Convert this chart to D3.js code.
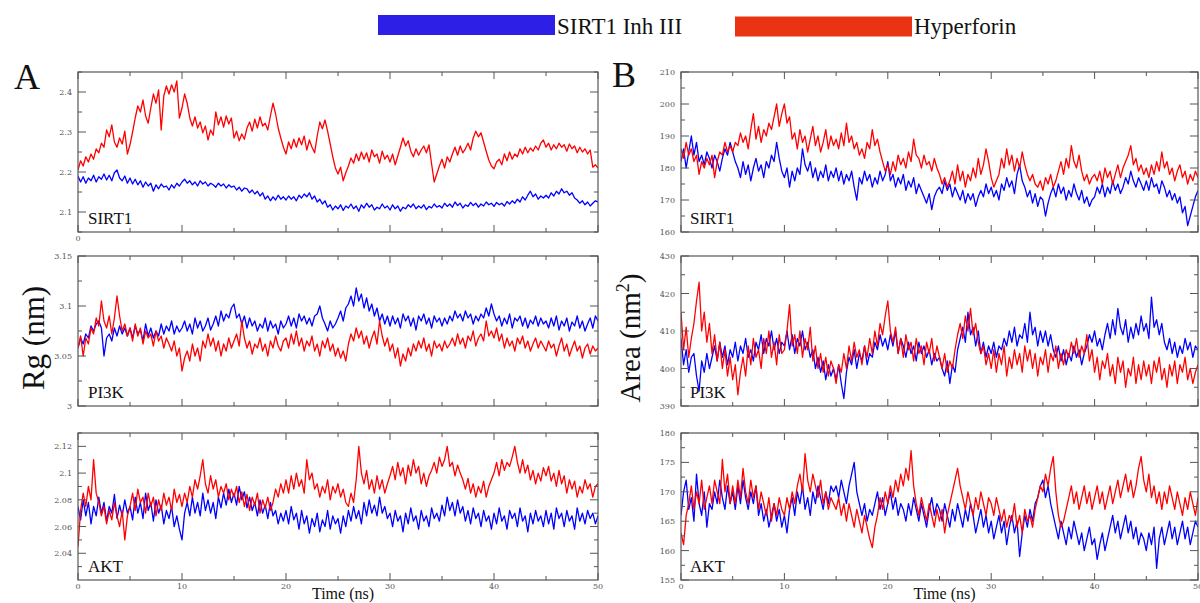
<!DOCTYPE html>
<html><head><meta charset="utf-8">
<script src="https://cdn.jsdelivr.net/npm/d3@7"></script>
<style>body{margin:0;background:#fff}svg{display:block}</style>
</head><body>
<svg id="c" width="1200" height="603"></svg>
<script>
// ---------- DATA (0.25 ns sampling, 0..50 ns) ----------
const timeStep = 0.25;
const xTicksMajor = [0, 10, 20, 30, 40, 50];
const xTicksMinor = [5, 15, 25, 35, 45];
const legendLabels = ["SIRT1 Inh III", "Hyperforin"];
const panelNames = ["SIRT1", "PI3K", "AKT"];

const rgSirt1Hyp = [
2.205,2.228,2.215,2.238,2.225,2.245,2.232,2.258,2.248,2.272,2.262,2.305,2.288,2.318,2.275,2.262,2.285,2.27,2.302,2.245,
2.268,2.3,2.335,2.365,2.35,2.38,2.34,2.322,2.36,2.395,2.372,2.405,2.305,2.39,2.415,2.395,2.418,2.4,2.428,2.335,
2.36,2.395,2.372,2.335,2.315,2.338,2.31,2.325,2.298,2.315,2.28,2.305,2.292,2.35,2.318,2.338,2.312,2.34,2.32,2.335,
2.285,2.302,2.278,2.295,2.282,2.31,2.325,2.302,2.332,2.31,2.338,2.315,2.322,2.305,2.34,2.372,2.345,2.31,2.285,2.262,
2.245,2.275,2.258,2.282,2.262,2.285,2.268,2.29,2.255,2.28,2.262,2.248,2.29,2.325,2.308,2.33,2.302,2.27,2.238,2.21,
2.195,2.212,2.178,2.198,2.215,2.235,2.222,2.245,2.228,2.25,2.232,2.248,2.225,2.255,2.238,2.245,2.222,2.252,2.232,2.242,
2.225,2.245,2.218,2.24,2.262,2.285,2.265,2.278,2.252,2.238,2.258,2.242,2.255,2.265,2.248,2.268,2.22,2.175,2.195,2.215,
2.232,2.21,2.238,2.225,2.245,2.262,2.242,2.265,2.248,2.258,2.272,2.255,2.285,2.302,2.288,2.298,2.275,2.252,2.23,2.215,
2.208,2.225,2.232,2.218,2.245,2.228,2.25,2.232,2.245,2.238,2.258,2.245,2.262,2.248,2.26,2.252,2.265,2.255,2.272,2.28,
2.262,2.272,2.255,2.268,2.258,2.272,2.262,2.268,2.252,2.27,2.258,2.265,2.248,2.262,2.25,2.258,2.245,2.255,2.212,2.218,2.21];
const rgSirt1Inh = [
2.19,2.175,2.188,2.172,2.185,2.178,2.192,2.175,2.188,2.182,2.195,2.18,2.192,2.178,2.198,2.205,2.185,2.178,2.19,2.172,
2.185,2.17,2.182,2.168,2.178,2.162,2.175,2.165,2.172,2.152,2.168,2.158,2.17,2.162,2.165,2.155,2.168,2.16,2.172,2.165,
2.175,2.182,2.172,2.178,2.168,2.175,2.165,2.178,2.17,2.175,2.165,2.172,2.168,2.162,2.172,2.165,2.17,2.16,2.168,2.162,
2.165,2.155,2.162,2.152,2.16,2.158,2.148,2.155,2.145,2.152,2.14,2.148,2.132,2.14,2.128,2.138,2.13,2.142,2.132,2.138,
2.13,2.14,2.132,2.138,2.128,2.142,2.135,2.145,2.138,2.148,2.132,2.14,2.125,2.132,2.12,2.128,2.112,2.118,2.105,2.115,
2.108,2.118,2.104,2.115,2.11,2.12,2.108,2.115,2.102,2.118,2.11,2.122,2.112,2.118,2.105,2.112,2.108,2.12,2.11,2.115,
2.105,2.118,2.108,2.115,2.102,2.112,2.108,2.118,2.112,2.12,2.108,2.115,2.11,2.118,2.106,2.114,2.11,2.12,2.112,2.116,
2.11,2.122,2.114,2.12,2.112,2.125,2.116,2.122,2.11,2.118,2.114,2.124,2.116,2.122,2.112,2.12,2.115,2.125,2.118,2.122,
2.114,2.124,2.118,2.122,2.115,2.126,2.12,2.128,2.122,2.132,2.125,2.138,2.13,2.142,2.152,2.138,2.145,2.132,2.14,2.135,
2.142,2.135,2.148,2.14,2.152,2.145,2.158,2.148,2.152,2.142,2.148,2.135,2.13,2.122,2.128,2.118,2.125,2.115,2.122,2.128,2.125];

const rgPi3kHyp = [
3.058,3.07,3.05,3.068,3.062,3.078,3.072,3.088,3.08,3.105,3.085,3.078,3.09,3.072,3.088,3.11,3.09,3.075,3.082,3.07,
3.078,3.065,3.082,3.07,3.078,3.062,3.075,3.068,3.072,3.06,3.075,3.065,3.07,3.058,3.068,3.062,3.055,3.065,3.05,3.058,
3.035,3.048,3.055,3.045,3.062,3.05,3.058,3.045,3.065,3.058,3.072,3.06,3.068,3.055,3.065,3.05,3.062,3.055,3.068,3.058,
3.065,3.072,3.06,3.085,3.068,3.058,3.065,3.052,3.062,3.058,3.068,3.055,3.062,3.05,3.065,3.058,3.07,3.06,3.055,3.065,
3.068,3.058,3.072,3.062,3.075,3.06,3.068,3.055,3.065,3.06,3.07,3.055,3.062,3.05,3.065,3.058,3.068,3.055,3.062,3.05,
3.058,3.048,3.055,3.045,3.062,3.072,3.065,3.078,3.068,3.075,3.062,3.07,3.058,3.068,3.075,3.062,3.085,3.07,3.06,3.068,
3.055,3.062,3.048,3.058,3.04,3.052,3.045,3.058,3.05,3.062,3.055,3.065,3.058,3.068,3.055,3.062,3.05,3.065,3.058,3.062,
3.055,3.065,3.058,3.062,3.068,3.06,3.072,3.062,3.068,3.058,3.07,3.065,3.075,3.06,3.068,3.072,3.065,3.085,3.07,3.075,
3.068,3.078,3.065,3.072,3.058,3.068,3.06,3.065,3.055,3.068,3.062,3.07,3.058,3.065,3.055,3.062,3.068,3.058,3.065,3.06,
3.055,3.065,3.058,3.062,3.05,3.06,3.068,3.055,3.062,3.05,3.058,3.065,3.055,3.06,3.048,3.058,3.062,3.052,3.06,3.055,3.058];
const rgPi3kInh = [
3.058,3.068,3.062,3.072,3.068,3.08,3.075,3.082,3.085,3.078,3.05,3.068,3.072,3.065,3.078,3.07,3.08,3.072,3.078,3.07,
3.078,3.068,3.08,3.072,3.076,3.065,3.082,3.07,3.078,3.068,3.075,3.07,3.082,3.072,3.08,3.075,3.085,3.072,3.08,3.074,
3.078,3.085,3.075,3.082,3.072,3.088,3.078,3.085,3.075,3.08,3.088,3.076,3.082,3.09,3.08,3.095,3.085,3.092,3.088,3.098,
3.102,3.088,3.092,3.082,3.09,3.078,3.088,3.08,3.085,3.075,3.082,3.078,3.088,3.075,3.085,3.078,3.082,3.072,3.085,3.078,
3.082,3.09,3.08,3.088,3.078,3.092,3.085,3.09,3.082,3.088,3.08,3.09,3.092,3.1,3.088,3.082,3.075,3.085,3.078,3.082,
3.088,3.095,3.085,3.098,3.102,3.11,3.1,3.118,3.105,3.112,3.098,3.108,3.095,3.102,3.09,3.098,3.085,3.092,3.082,3.09,
3.08,3.09,3.082,3.088,3.078,3.092,3.085,3.09,3.08,3.088,3.076,3.09,3.085,3.092,3.082,3.088,3.078,3.09,3.084,3.088,
3.08,3.088,3.082,3.09,3.085,3.095,3.088,3.092,3.085,3.095,3.088,3.092,3.082,3.09,3.085,3.092,3.088,3.098,3.09,3.102,
3.092,3.085,3.09,3.08,3.088,3.082,3.092,3.078,3.088,3.085,3.09,3.08,3.088,3.078,3.086,3.082,3.09,3.08,3.088,3.082,
3.085,3.078,3.088,3.08,3.09,3.076,3.085,3.08,3.088,3.075,3.084,3.08,3.09,3.078,3.085,3.075,3.082,3.088,3.078,3.09,3.085];

const rgAktHyp = [
2.045,2.072,2.085,2.075,2.09,2.08,2.11,2.085,2.078,2.068,2.075,2.062,2.072,2.065,2.078,2.068,2.06,2.072,2.05,2.068,
2.075,2.085,2.072,2.088,2.078,2.082,2.07,2.085,2.075,2.082,2.068,2.08,2.072,2.085,2.076,2.082,2.072,2.088,2.078,2.084,
2.075,2.085,2.078,2.09,2.082,2.095,2.088,2.098,2.11,2.092,2.085,2.098,2.088,2.095,2.082,2.09,2.085,2.092,2.08,2.088,
2.082,2.09,2.078,2.086,2.075,2.084,2.072,2.082,2.076,2.085,2.07,2.08,2.074,2.082,2.072,2.078,2.088,2.082,2.092,2.085,
2.095,2.085,2.098,2.088,2.1,2.09,2.095,2.085,2.11,2.095,2.1,2.088,2.092,2.082,2.09,2.085,2.095,2.08,2.09,2.085,
2.092,2.082,2.088,2.078,2.075,2.085,2.078,2.095,2.12,2.1,2.092,2.102,2.088,2.095,2.085,2.098,2.088,2.095,2.085,2.092,
2.098,2.105,2.095,2.108,2.098,2.104,2.092,2.106,2.098,2.11,2.1,2.105,2.092,2.1,2.09,2.098,2.102,2.108,2.1,2.112,
2.105,2.11,2.12,2.105,2.108,2.098,2.106,2.1,2.095,2.088,2.096,2.085,2.092,2.082,2.09,2.085,2.094,2.082,2.09,2.095,
2.1,2.108,2.098,2.11,2.102,2.108,2.105,2.112,2.12,2.108,2.1,2.11,2.1,2.106,2.095,2.102,2.092,2.1,2.094,2.104,
2.098,2.105,2.094,2.1,2.09,2.102,2.092,2.098,2.085,2.095,2.088,2.094,2.082,2.09,2.085,2.095,2.088,2.092,2.082,2.09,2.092];
const rgAktInh = [
2.075,2.065,2.08,2.068,2.078,2.062,2.075,2.068,2.082,2.07,2.078,2.064,2.075,2.07,2.084,2.066,2.076,2.068,2.08,2.07,
2.075,2.065,2.082,2.07,2.078,2.066,2.085,2.072,2.078,2.064,2.08,2.07,2.076,2.062,2.072,2.066,2.075,2.06,2.068,2.058,
2.05,2.07,2.078,2.068,2.082,2.07,2.078,2.068,2.085,2.072,2.08,2.07,2.078,2.066,2.082,2.074,2.085,2.076,2.088,2.078,
2.085,2.076,2.09,2.08,2.086,2.074,2.082,2.072,2.078,2.068,2.08,2.07,2.076,2.066,2.078,2.068,2.072,2.062,2.07,2.064,
2.072,2.062,2.075,2.065,2.07,2.058,2.072,2.062,2.068,2.055,2.066,2.06,2.07,2.056,2.065,2.06,2.072,2.058,2.068,2.062,
2.066,2.055,2.068,2.06,2.072,2.064,2.075,2.066,2.072,2.062,2.078,2.068,2.08,2.07,2.076,2.068,2.082,2.07,2.075,2.066,
2.07,2.06,2.072,2.064,2.068,2.056,2.07,2.062,2.074,2.064,2.068,2.058,2.072,2.064,2.068,2.06,2.074,2.066,2.07,2.064,
2.076,2.068,2.082,2.072,2.078,2.068,2.08,2.07,2.075,2.064,2.072,2.062,2.074,2.066,2.07,2.06,2.072,2.064,2.068,2.058,
2.07,2.062,2.074,2.064,2.068,2.058,2.072,2.066,2.07,2.06,2.074,2.064,2.068,2.056,2.07,2.062,2.072,2.064,2.068,2.06,
2.072,2.062,2.07,2.058,2.074,2.066,2.07,2.06,2.072,2.064,2.068,2.058,2.074,2.064,2.07,2.062,2.072,2.066,2.07,2.062,2.068];

const areaSirt1Hyp = [
186,183,188,184,186,182,184,178,182,180,183,181,184,177,182,185,184,188,185,187,
185,188,187,191,188,190,186,192,197,189,193,188,192,190,194,192,196,200,193,197,
200,194,196,189,191,186,192,188,190,185,189,193,187,190,185,188,192,186,190,187,
189,186,191,187,194,188,190,186,188,184,186,183,188,186,192,187,189,185,182,179,
181,178,182,179,184,181,183,180,185,182,189,184,183,180,184,181,182,179,183,180,
178,175,177,174,176,179,175,181,176,179,174,178,176,180,177,183,178,181,186,182,
177,174,176,178,183,180,186,181,184,179,183,180,185,181,178,176,178,175,174,176,
173,177,175,178,174,176,179,182,178,183,180,187,182,180,184,179,176,178,175,177,
178,176,179,175,180,177,179,175,178,181,177,180,182,184,187,181,183,179,181,178,
180,177,181,178,182,179,185,180,182,178,180,176,179,181,177,179,175,178,176,179,177];
const areaSirt1Inh = [
182,186,180,185,190,184,188,182,184,181,185,183,180,184,182,179,183,186,184,188,
185,182,180,177,182,178,181,176,180,183,179,181,177,182,180,184,182,188,183,179,
177,180,174,179,176,180,178,186,181,179,182,177,180,176,179,177,181,176,179,177,
180,176,179,175,178,176,179,174,170,177,175,179,176,178,174,177,175,179,176,178,
182,176,178,174,177,175,178,173,176,174,177,172,175,173,171,169,172,167,171,173,
174,172,176,173,175,171,174,172,170,173,169,172,170,172,168,171,173,171,175,172,
174,171,173,170,175,173,177,174,176,172,178,181,176,174,171,173,169,172,168,171,
170,165,169,172,174,171,175,172,174,170,173,171,175,172,170,173,169,171,168,170,
171,174,172,175,171,174,172,176,173,175,172,174,177,175,179,176,174,177,175,173,
176,173,177,174,175,172,176,174,171,173,170,172,169,171,166,168,162,165,168,171,173];

const areaPi3kHyp = [
415,405,411,403,408,412,418,423,410,415,407,412,404,409,402,407,400,405,398,403,
397,401,393,399,403,398,406,401,408,403,405,400,408,404,410,403,407,401,409,404,
405,410,417,406,409,404,410,403,408,405,411,402,406,400,404,399,403,398,402,400,
396,401,399,404,400,406,402,407,403,405,401,406,403,408,404,410,406,412,409,414,
418,410,407,411,404,408,403,409,405,407,402,408,404,406,401,407,404,408,402,406,
403,400,404,399,402,400,405,409,412,408,414,410,416,409,412,407,404,406,401,404,
400,405,399,404,401,406,398,403,400,405,401,404,399,406,402,405,400,404,398,403,
401,405,399,404,402,406,400,404,401,405,403,407,404,408,403,406,404,409,402,405,
399,403,397,402,400,404,398,401,396,403,399,402,395,400,398,403,396,401,397,402,
398,401,396,402,399,403,397,400,395,401,398,402,396,401,399,403,397,400,396,399,401];
const areaPi3kInh = [
408,401,405,399,403,404,398,394,402,399,404,400,403,406,402,407,403,406,401,405,
403,407,402,406,404,408,403,405,402,407,405,409,404,408,406,410,405,408,404,407,
406,410,405,409,404,408,406,410,405,407,403,405,400,403,399,402,397,401,398,400,
397,401,396,392,399,403,401,405,400,404,402,406,401,404,403,407,405,409,406,408,
405,409,406,410,404,408,406,403,407,404,406,402,407,404,406,403,405,401,404,402,
403,400,398,402,396,401,399,405,408,411,407,415,409,411,406,410,404,407,403,406,
404,407,403,406,405,408,406,410,407,411,406,409,408,412,407,415,409,411,406,410,
407,410,406,409,405,403,406,402,405,401,404,402,406,403,405,401,404,406,409,407,
410,406,408,405,409,412,408,413,409,416,411,409,413,407,411,408,412,409,414,410,
412,408,419,411,413,409,412,407,405,408,404,407,403,406,404,408,405,407,403,406,405];

const areaAktHyp = [
163,161,166,168,171,167,170,168,172,167,169,171,168,172,170,168,175.5,170,173,168,
171,168,172,169,174,170,168,172,169,171,167,170,168,166,169,165,168,166,169,167,
166,169,167,170,168,171,173,170,176.5,172,170,173,171,169,172,168,170,167,169,168,
167,169,166,168,165,168,166,164,167,165,163,166,164,162,160.5,164,166,169,167,170,
168,171,169,172,170,173,171,174,172,177,171,168,166,169,167,165,168,166,164,167,
165,167,163,166,168,170,172,174,171,169,167,170,168,166,169,167,170,168,166,169,
168,166,169,167,165,167,164,166,165,168,164,166,163,167,165,166,164,167,169,171,
170,173,171,174,176,170,166,164,165,167,169,171,168,170,167,169,171,168,170,167,
169,171,168,170,167,169,171,168,170,172,169,171,173,170,172,169,171,174,176,172,
170,173,169,171,168,170,167,170,168,171,169,167,170,168,166,169,167,170,168,166,169];
const areaAktInh = [
166,170,172,167,169,165,173,168,166,170,164,168,167,170,168,172,169,167,171,168,
170,167,171,168,172,169,167,170,168,171,166,168,165,167,164,166,168,165,167,164,
166,163,167,169,166,170,168,171,167,169,166,170,168,171,169,167,170,168,171,170,
171,169,172,170,168,171,173,175,170,168,166,168,165,167,166,168,170,167,169,166,
168,170,167,169,166,168,167,165,168,166,169,167,165,168,166,164,167,169,166,168,
167,165,168,166,164,167,165,168,166,164,167,165,168,166,163,165,167,164,166,163,
165,162,164,166,163,165,161,164,166,163,165,159,163,166,164,167,165,168,169,171,
172,169,171,168,166,164,162,165,163,161,164,162,165,163,161,163,160,162,164,161,
162,158.5,161,163,160,162,164,166,163,165,162,164,166,163,165,162,164,161,163,162,
160,163,161,164,157,162,164,161,163,165,162,164,161,163,165,162,164,161,163,165,164];

// y-axis tick values per panel
const yTicksA = [[2.1,2.2,2.3,2.4],[3,3.05,3.1,3.15],[2.04,2.06,2.08,2.1,2.12]];
const yMinorA = [[2.05,2.15,2.25,2.35,2.45],[3.025,3.075,3.125],[2.03,2.05,2.07,2.09,2.11,2.13]];
const yDomA = [[2.05,2.45],[3,3.15],[2.02,2.13]];
const yTicksB = [[160,170,180,190,200,210],[390,400,410,420,430],[155,160,165,170,175,180]];
const yMinorB = [[165,175,185,195,205],[395,405,415,425],[157.5,162.5,167.5,172.5,177.5]];
const yDomB = [[160,210],[390,430],[155,180]];

// ---------- LAYOUT ----------
const svg = d3.select("#c");
const rows = [[72,232],[256,406],[433,580]];
const cols = [[78,598],[681,1198]];
const BLUE = "#0000ff", RED = "#ff0000";
const serif = "'Liberation Serif','Times New Roman',serif";
const tickFont = "'DejaVu Serif',serif";

const panels = [
  {c:0,r:0,dom:yDomA[0],tk:yTicksA[0],mn:yMinorA[0],blue:rgSirt1Inh,red:rgSirt1Hyp,name:panelNames[0],xlab:"zero"},
  {c:0,r:1,dom:yDomA[1],tk:yTicksA[1],mn:yMinorA[1],blue:rgPi3kInh,red:rgPi3kHyp,name:panelNames[1],xlab:"none"},
  {c:0,r:2,dom:yDomA[2],tk:yTicksA[2],mn:yMinorA[2],blue:rgAktInh,red:rgAktHyp,name:panelNames[2],xlab:"all"},
  {c:1,r:0,dom:yDomB[0],tk:yTicksB[0],mn:yMinorB[0],blue:areaSirt1Inh,red:areaSirt1Hyp,name:panelNames[0],xlab:"none"},
  {c:1,r:1,dom:yDomB[1],tk:yTicksB[1],mn:yMinorB[1],blue:areaPi3kInh,red:areaPi3kHyp,name:panelNames[1],xlab:"none"},
  {c:1,r:2,dom:yDomB[2],tk:yTicksB[2],mn:yMinorB[2],blue:areaAktInh,red:areaAktHyp,name:panelNames[2],xlab:"all"}
];

panels.forEach((p,idx)=>{
  const [x0,x1] = cols[p.c], [y0,y1] = rows[p.r];
  const x = d3.scaleLinear().domain([0,50]).range([x0,x1]);
  const y = d3.scaleLinear().domain(p.dom).range([y1,y0]);
  const g = svg.append("g");
  const clipId = "clip"+idx;
  g.append("clipPath").attr("id",clipId).append("rect")
    .attr("x",x0).attr("y",y0).attr("width",x1-x0).attr("height",y1-y0);
  const line = d3.line().x((d,i)=>x(i*timeStep)).y(d=>y(d));
  const lg = g.append("g").attr("clip-path",`url(#${clipId})`);
  lg.append("path").datum(p.blue).attr("d",line).attr("fill","none")
    .attr("stroke",BLUE).attr("stroke-width",1.3).attr("stroke-linejoin","round");
  lg.append("path").datum(p.red).attr("d",line).attr("fill","none")
    .attr("stroke",RED).attr("stroke-width",1.3).attr("stroke-linejoin","round");

  const ax = g.append("g").attr("stroke","#555").attr("stroke-width",1);
  g.append("rect").attr("x",x0).attr("y",y0).attr("width",x1-x0).attr("height",y1-y0)
    .attr("fill","none").attr("stroke","#555").attr("stroke-width",1.2);
  xTicksMajor.forEach(t=>{
    ax.append("line").attr("x1",x(t)).attr("x2",x(t)).attr("y1",y1).attr("y2",y1-7);
    ax.append("line").attr("x1",x(t)).attr("x2",x(t)).attr("y1",y0).attr("y2",y0+7);
  });
  xTicksMinor.forEach(t=>{
    ax.append("line").attr("x1",x(t)).attr("x2",x(t)).attr("y1",y1).attr("y2",y1-4);
    ax.append("line").attr("x1",x(t)).attr("x2",x(t)).attr("y1",y0).attr("y2",y0+4);
  });
  p.tk.forEach(t=>{
    ax.append("line").attr("x1",x0).attr("x2",x0+8).attr("y1",y(t)).attr("y2",y(t));
    ax.append("line").attr("x1",x1).attr("x2",x1-8).attr("y1",y(t)).attr("y2",y(t));
  });
  p.mn.forEach(t=>{
    if (t<p.dom[0]||t>p.dom[1]) return;
    ax.append("line").attr("x1",x0).attr("x2",x0+4).attr("y1",y(t)).attr("y2",y(t));
    ax.append("line").attr("x1",x1).attr("x2",x1-4).attr("y1",y(t)).attr("y2",y(t));
  });
  g.selectAll(null).data(p.tk).enter().append("text")
    .attr("x",x0-6).attr("y",d=>y(d)+3).attr("text-anchor","end")
    .attr("font-family",tickFont).attr("font-size",8).attr("fill","#555")
    .text(d=>String(d));
  const xl = p.xlab==="all" ? xTicksMajor : (p.xlab==="zero" ? [0] : []);
  g.selectAll(null).data(xl).enter().append("text")
    .attr("x",d=>x(d)).attr("y",y1+9).attr("text-anchor","middle")
    .attr("font-family",tickFont).attr("font-size",8).attr("fill","#555")
    .text(d=>String(d));
  g.append("text").attr("x",x0+(p.c===0?10:9)).attr("y",y1-8)
    .attr("font-family",serif).attr("font-size",17).attr("fill","#111").text(p.name);
  if (p.xlab==="all") {
    g.append("text").attr("x",(x0+x1)/2+5).attr("y",y1+19).attr("text-anchor","middle")
      .attr("font-family",serif).attr("font-size",16).attr("fill","#111").text("Time (ns)");
  }
});

svg.append("text").attr("x",14).attr("y",89).attr("font-family",serif).attr("font-size",36).attr("fill","#111").text("A");
svg.append("text").attr("x",612).attr("y",87).attr("font-family",serif).attr("font-size",36).attr("fill","#111").text("B");

svg.append("text").attr("transform","translate(44,338) rotate(-90)").attr("text-anchor","middle")
  .attr("font-family",serif).attr("font-size",31).attr("fill","#111").text("Rg (nm)");
const at = svg.append("text").attr("transform","translate(640,338) rotate(-90)").attr("text-anchor","middle")
  .attr("font-family",serif).attr("font-size",29).attr("fill","#111");
at.append("tspan").text("Area (nm");
at.append("tspan").attr("dy",-11).attr("font-size",18).text("2");
at.append("tspan").attr("dy",11).text(")");

const legColors = ["#2e1fe6","#ea3312"];
const legX = [378,735], legW = 177;
legendLabels.forEach((l,i)=>{
  svg.append("rect").attr("x",legX[i]).attr("y",15+i*1.5).attr("width",legW).attr("height",20)
    .attr("fill",legColors[i]);
  svg.append("text").attr("x",legX[i]+legW+2).attr("y",34).attr("font-family",serif)
    .attr("font-size",23).attr("fill","#111").text(l);
});
</script>
</body></html>
